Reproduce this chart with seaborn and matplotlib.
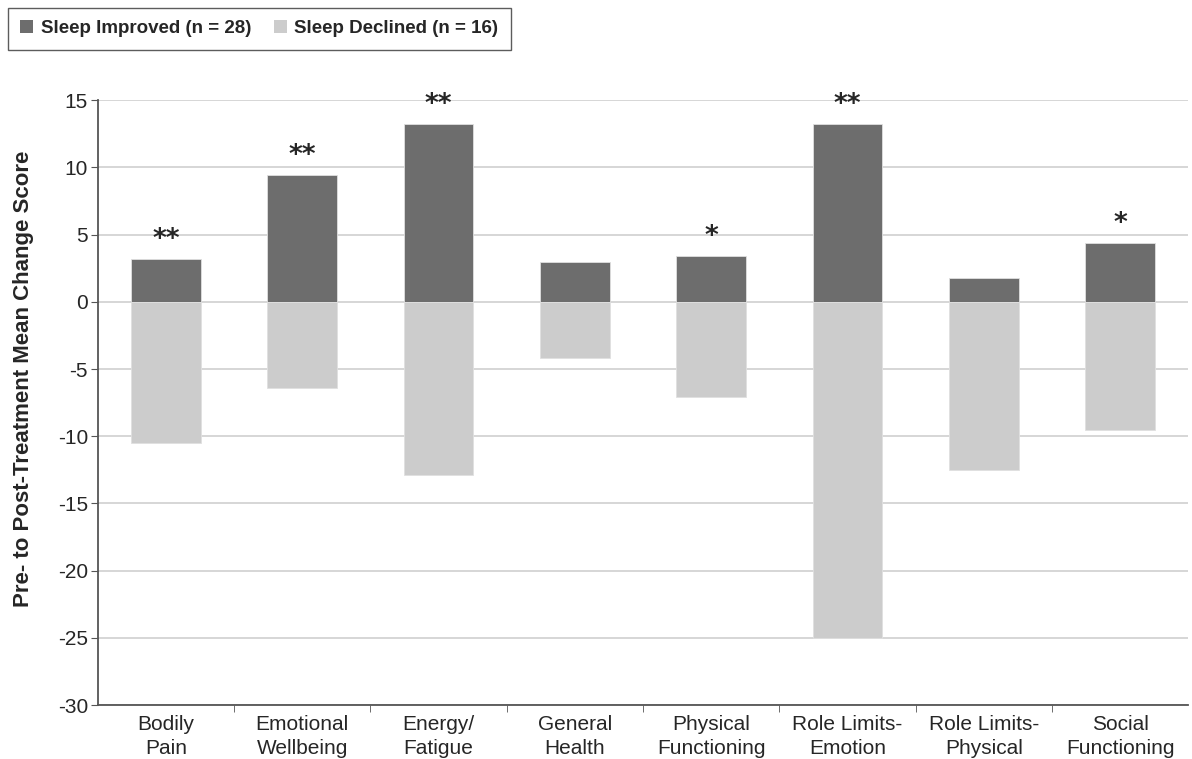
import matplotlib
matplotlib.use("Agg")
import matplotlib.pyplot as plt
import numpy as np
import pandas as pd
import seaborn as sns
from matplotlib.patches import Patch

domains = ["Bodily\nPain", "Emotional\nWellbeing", "Energy/\nFatigue", "General\nHealth",
           "Physical\nFunctioning", "Role Limits-\nEmotion", "Role Limits-\nPhysical", "Social\nFunctioning"]
improved = [3.2, 9.4, 13.2, 3.0, 3.4, 13.2, 1.8, 4.4]
declined = [-10.5, -6.4, -12.9, -4.2, -7.1, -25.0, -12.5, -9.5]
stars = ["**", "**", "**", "", "*", "**", "", "*"]
groups = ["Sleep Improved (n = 28)", "Sleep Declined (n = 16)"]
colors = {"Sleep Improved (n = 28)": "#6d6d6d", "Sleep Declined (n = 16)": "#cccccc"}

df = pd.DataFrame({
    "domain": domains * 2,
    "score": improved + declined,
    "group": [groups[0]] * len(domains) + [groups[1]] * len(domains),
})

sns.set_style("white")
FONT = ["Liberation Sans Narrow", "Liberation Sans", "DejaVu Sans"]
plt.rcParams["font.family"] = FONT
plt.rcParams["axes.unicode_minus"] = False

fig = plt.figure(figsize=(11.92, 7.59), dpi=100)
ax = fig.add_axes([0.082, 0.071, 0.915, 0.797])

sns.barplot(data=df, x="domain", y="score", hue="group", palette=colors, dodge=False,
            width=0.51, edgecolor="#e0e0e0", linewidth=0.6, ax=ax, legend=False, zorder=3)

ax.set_ylim(-30, 15)
ax.set_xlim(-0.5, len(domains) - 0.5)
ax.set_yticks(np.arange(-30, 16, 5))
ax.yaxis.grid(True, color="#d0d0d0", linewidth=1.2, zorder=0)
ax.set_axisbelow(True)
for s in ["top", "right"]:
    ax.spines[s].set_visible(False)
for s in ["left", "bottom"]:
    ax.spines[s].set_color("#555555")
    ax.spines[s].set_linewidth(1.3)

ax.tick_params(axis="y", labelsize=15, length=5, color="#555555", direction="out", left=True, pad=2)
ax.tick_params(axis="x", which="major", labelsize=15, length=0, pad=7)
for lbl in ax.get_xticklabels():
    lbl.set_linespacing(1.35)
ax.set_xticks(np.arange(0.5, len(domains) - 0.5, 1), minor=True)
ax.tick_params(axis="x", which="minor", length=5, color="#555555", direction="out", bottom=True)
ax.set_xlabel("")
ax.set_ylabel("Pre- to Post-Treatment Mean Change Score", fontsize=16, fontweight="bold")
ax.yaxis.set_label_coords(-0.058, 0.54)

for i, (v, s) in enumerate(zip(improved, stars)):
    if s:
        ax.text(i, v + 0.45, s, ha="center", va="bottom", fontsize=19, fontweight="bold",
                family=["DejaVu Sans"])

handles = [Patch(facecolor=colors[g], edgecolor="none") for g in groups]
leg = fig.legend(handles, groups, loc="upper left", bbox_to_anchor=(8 / 1192, 1 - 8 / 759),
                 borderaxespad=0, ncol=2, frameon=True, fancybox=False, edgecolor="#333333",
                 handlelength=0.7, handleheight=0.7, handletextpad=0.4, columnspacing=1.2,
                 borderpad=0.65, prop={"weight": "bold", "size": 13.5, "family": FONT})
leg.get_frame().set_linewidth(1.0)

fig.savefig("out.png", dpi=100)
